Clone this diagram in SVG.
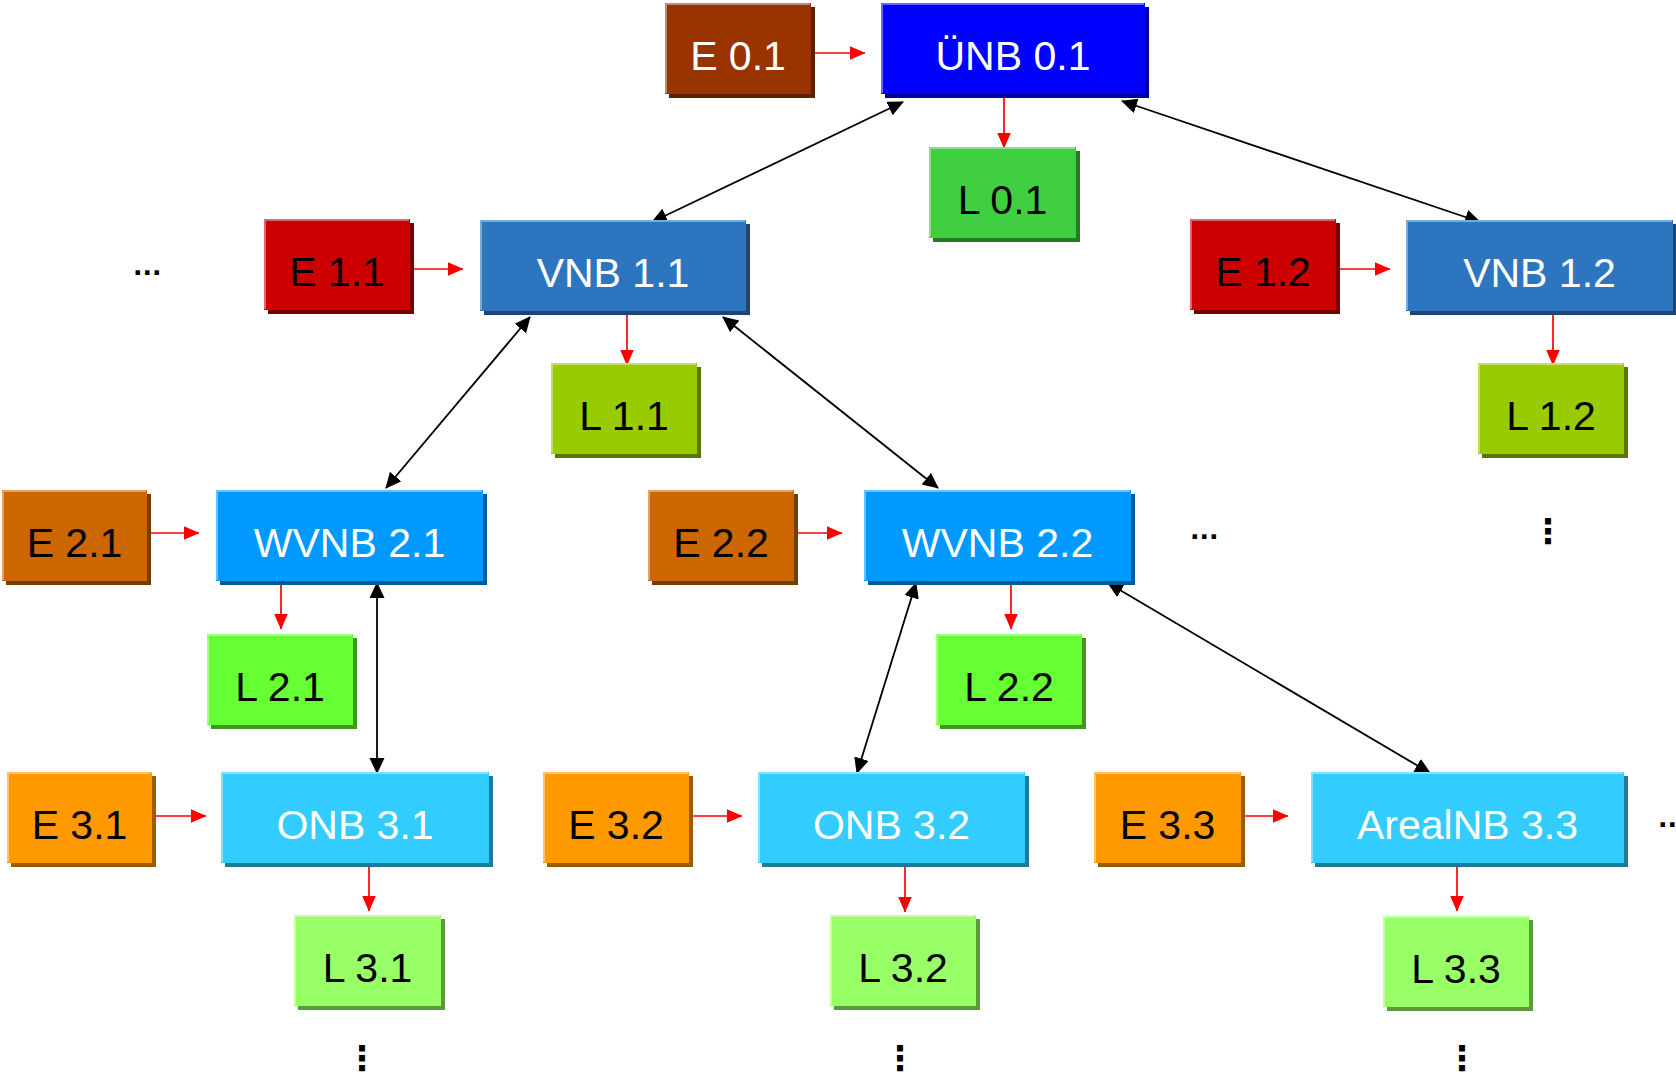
<svg xmlns="http://www.w3.org/2000/svg" width="1676" height="1080" viewBox="0 0 1676 1080">
<defs>
<style>
text{font-family:"Liberation Sans",Arial,Helvetica,sans-serif;font-size:41px;text-anchor:middle}
.hl{fill:none;stroke-width:2}
.w text{fill:#ffffff}
.k text{fill:#000000}
.e0 .bd{fill:#993300}.e0 .sh{fill:#5e2000}.e0 .hl{stroke:#c58a6e}
.u0 .bd{fill:#0000ff}.u0 .sh{fill:#00009a}.u0 .hl{stroke:#6666ff}
.l0 .bd{fill:#40cf40}.l0 .sh{fill:#267a26}.l0 .hl{stroke:#86e386}
.e1 .bd{fill:#cc0000}.e1 .sh{fill:#780000}.e1 .hl{stroke:#e06666}
.v1 .bd{fill:#2e75bf}.v1 .sh{fill:#1b4676}.v1 .hl{stroke:#7aaad9}
.l1 .bd{fill:#99cc00}.l1 .sh{fill:#5a7800}.l1 .hl{stroke:#c2e066}
.e2 .bd{fill:#cc6600}.e2 .sh{fill:#783c00}.e2 .hl{stroke:#e0a366}
.v2 .bd{fill:#0099ff}.v2 .sh{fill:#005a99}.v2 .hl{stroke:#66c2ff}
.l2 .bd{fill:#66ff33}.l2 .sh{fill:#3c991e}.l2 .hl{stroke:#a3ff85}
.e3 .bd{fill:#ff9900}.e3 .sh{fill:#9a5c00}.e3 .hl{stroke:#ffc266}
.v3 .bd{fill:#33ccff}.v3 .sh{fill:#1e7a99}.v3 .hl{stroke:#85e0ff}
.l3 .bd{fill:#99ff66}.l3 .sh{fill:#5a993c}.l3 .hl{stroke:#c2ffa3}
.red{stroke:#ff0000;stroke-width:1.7;fill:none;marker-end:url(#ar)}
.blk{stroke:#000000;stroke-width:1.8;fill:none;marker-start:url(#ab);marker-end:url(#ab)}
.dots{font-family:"DejaVu Sans",sans-serif;fill:#000;text-anchor:start;font-size:25px;font-weight:bold}
.vdots{font-family:"DejaVu Sans",sans-serif;fill:#000;text-anchor:middle;font-size:34px;font-weight:bold}
</style>
<marker id="ar" markerUnits="userSpaceOnUse" markerWidth="17" markerHeight="15" refX="15.5" refY="7" orient="auto"><path d="M0,0 L16,7 L0,14 z" fill="#ff0000"/></marker>
<marker id="ab" markerUnits="userSpaceOnUse" markerWidth="17" markerHeight="16" refX="15" refY="7.5" orient="auto-start-reverse"><path d="M0,0 L16,7.5 L0,15 z" fill="#000000"/></marker>
</defs>
<rect width="1676" height="1080" fill="#ffffff"/>

<g id="connectors">
<line class="red" x1="812" y1="53" x2="865" y2="53"/>
<line class="red" x1="1004" y1="98" x2="1004" y2="148"/>
<line class="red" x1="412" y1="269" x2="463" y2="269"/>
<line class="red" x1="627" y1="315" x2="627" y2="365"/>
<line class="red" x1="1338" y1="269" x2="1390" y2="269"/>
<line class="red" x1="1553" y1="315" x2="1553" y2="365"/>
<line class="red" x1="147" y1="533" x2="199" y2="533"/>
<line class="red" x1="281" y1="585" x2="281" y2="629"/>
<line class="red" x1="796" y1="533" x2="842" y2="533"/>
<line class="red" x1="1011" y1="585" x2="1011" y2="629"/>
<line class="red" x1="153" y1="816" x2="206" y2="816"/>
<line class="red" x1="369" y1="866" x2="369" y2="911"/>
<line class="red" x1="690" y1="816" x2="742" y2="816"/>
<line class="red" x1="905" y1="866" x2="905" y2="912"/>
<line class="red" x1="1243" y1="816" x2="1288" y2="816"/>
<line class="red" x1="1457" y1="866" x2="1457" y2="911"/>
<line class="blk" x1="903" y1="102" x2="652" y2="222"/>
<line class="blk" x1="1122" y1="101" x2="1480" y2="222"/>
<line class="blk" x1="530" y1="317" x2="386" y2="488"/>
<line class="blk" x1="723" y1="317" x2="938" y2="488"/>
<line class="blk" x1="377" y1="583" x2="377" y2="773"/>
<line class="blk" x1="916" y1="583" x2="857" y2="773"/>
<line class="blk" x1="1108" y1="583" x2="1430" y2="773"/>
</g>

<g id="E01" class="node e0 w" transform="translate(665,3)"><rect class="sh" x="4" y="4" width="146" height="91"/><rect class="bd" width="146" height="91"/><path class="hl" d="M1,90V1H145"/><text x="73" y="67">E 0.1</text></g>
<g id="UNB01" class="node u0 w" transform="translate(881,3)"><rect class="sh" x="4" y="4" width="264" height="91"/><rect class="bd" width="264" height="91"/><path class="hl" d="M1,90V1H263"/><text x="132" y="67">ÜNB 0.1</text></g>
<g id="L01" class="node l0 k" transform="translate(929,147)"><rect class="sh" x="4" y="4" width="147" height="91"/><rect class="bd" width="147" height="91"/><path class="hl" d="M1,90V1H146"/><text x="73.5" y="67">L 0.1</text></g>

<g id="E11" class="node e1 k" transform="translate(264,219)"><rect class="sh" x="4" y="4" width="146" height="91"/><rect class="bd" width="146" height="91"/><path class="hl" d="M1,90V1H145"/><text x="73" y="67">E 1.1</text></g>
<g id="VNB11" class="node v1 w" transform="translate(480,220)"><rect class="sh" x="4" y="4" width="266" height="91"/><rect class="bd" width="266" height="91"/><path class="hl" d="M1,90V1H265"/><text x="133" y="67">VNB 1.1</text></g>
<g id="L11" class="node l1 k" transform="translate(551,363)"><rect class="sh" x="4" y="4" width="146" height="91"/><rect class="bd" width="146" height="91"/><path class="hl" d="M1,90V1H145"/><text x="73" y="67">L 1.1</text></g>
<g id="E12" class="node e1 k" transform="translate(1190,219)"><rect class="sh" x="4" y="4" width="146" height="91"/><rect class="bd" width="146" height="91"/><path class="hl" d="M1,90V1H145"/><text x="73" y="67">E 1.2</text></g>
<g id="VNB12" class="node v1 w" transform="translate(1406,220)"><rect class="sh" x="4" y="4" width="267" height="91"/><rect class="bd" width="267" height="91"/><path class="hl" d="M1,90V1H266"/><text x="133.5" y="67">VNB 1.2</text></g>
<g id="L12" class="node l1 k" transform="translate(1478,363)"><rect class="sh" x="4" y="4" width="146" height="91"/><rect class="bd" width="146" height="91"/><path class="hl" d="M1,90V1H145"/><text x="73" y="67">L 1.2</text></g>

<g id="E21" class="node e2 k" transform="translate(2,490)"><rect class="sh" x="4" y="4" width="145" height="91"/><rect class="bd" width="145" height="91"/><path class="hl" d="M1,90V1H144"/><text x="72.5" y="67">E 2.1</text></g>
<g id="WVNB21" class="node v2 w" transform="translate(216,490)"><rect class="sh" x="4" y="4" width="267" height="91"/><rect class="bd" width="267" height="91"/><path class="hl" d="M1,90V1H266"/><text x="133.5" y="67">WVNB 2.1</text></g>
<g id="L21" class="node l2 k" transform="translate(207,634)"><rect class="sh" x="4" y="4" width="146" height="91"/><rect class="bd" width="146" height="91"/><path class="hl" d="M1,90V1H145"/><text x="73" y="67">L 2.1</text></g>
<g id="E22" class="node e2 k" transform="translate(648,490)"><rect class="sh" x="4" y="4" width="146" height="91"/><rect class="bd" width="146" height="91"/><path class="hl" d="M1,90V1H145"/><text x="73" y="67">E 2.2</text></g>
<g id="WVNB22" class="node v2 w" transform="translate(864,490)"><rect class="sh" x="4" y="4" width="267" height="91"/><rect class="bd" width="267" height="91"/><path class="hl" d="M1,90V1H266"/><text x="133.5" y="67">WVNB 2.2</text></g>
<g id="L22" class="node l2 k" transform="translate(936,634)"><rect class="sh" x="4" y="4" width="146" height="91"/><rect class="bd" width="146" height="91"/><path class="hl" d="M1,90V1H145"/><text x="73" y="67">L 2.2</text></g>

<g id="E31" class="node e3 k" transform="translate(7,772)"><rect class="sh" x="4" y="4" width="145" height="91"/><rect class="bd" width="145" height="91"/><path class="hl" d="M1,90V1H144"/><text x="72.5" y="67">E 3.1</text></g>
<g id="ONB31" class="node v3 w" transform="translate(221,772)"><rect class="sh" x="4" y="4" width="268" height="91"/><rect class="bd" width="268" height="91"/><path class="hl" d="M1,90V1H267"/><text x="134" y="67">ONB 3.1</text></g>
<g id="L31" class="node l3 k" transform="translate(294,915)"><rect class="sh" x="4" y="4" width="147" height="91"/><rect class="bd" width="147" height="91"/><path class="hl" d="M1,90V1H146"/><text x="73.5" y="67">L 3.1</text></g>
<g id="E32" class="node e3 k" transform="translate(543,772)"><rect class="sh" x="4" y="4" width="146" height="91"/><rect class="bd" width="146" height="91"/><path class="hl" d="M1,90V1H145"/><text x="73" y="67">E 3.2</text></g>
<g id="ONB32" class="node v3 w" transform="translate(758,772)"><rect class="sh" x="4" y="4" width="267" height="91"/><rect class="bd" width="267" height="91"/><path class="hl" d="M1,90V1H266"/><text x="133.5" y="67">ONB 3.2</text></g>
<g id="L32" class="node l3 k" transform="translate(830,915)"><rect class="sh" x="4" y="4" width="146" height="91"/><rect class="bd" width="146" height="91"/><path class="hl" d="M1,90V1H145"/><text x="73" y="67">L 3.2</text></g>
<g id="E33" class="node e3 k" transform="translate(1094,772)"><rect class="sh" x="4" y="4" width="147" height="91"/><rect class="bd" width="147" height="91"/><path class="hl" d="M1,90V1H146"/><text x="73.5" y="67">E 3.3</text></g>
<g id="ArealNB33" class="node v3 w" transform="translate(1311,772)"><rect class="sh" x="4" y="4" width="313" height="91"/><rect class="bd" width="313" height="91"/><path class="hl" d="M1,90V1H312"/><text x="156.5" y="67">ArealNB 3.3</text></g>
<g id="L33" class="node l3 k" transform="translate(1383,916)"><rect class="sh" x="4" y="4" width="146" height="91"/><rect class="bd" width="146" height="91"/><path class="hl" d="M1,90V1H145"/><text x="73" y="67">L 3.3</text></g>

<g id="ellipses">
<text class="dots" x="133" y="275">...</text>
<text class="dots" x="1190" y="539">...</text>
<text class="dots" x="1658" y="827">...</text>
<text class="vdots" x="1548" y="543">⋮</text>
<text class="vdots" x="362" y="1070">⋮</text>
<text class="vdots" x="900" y="1070">⋮</text>
<text class="vdots" x="1462" y="1070">⋮</text>
</g>
</svg>
